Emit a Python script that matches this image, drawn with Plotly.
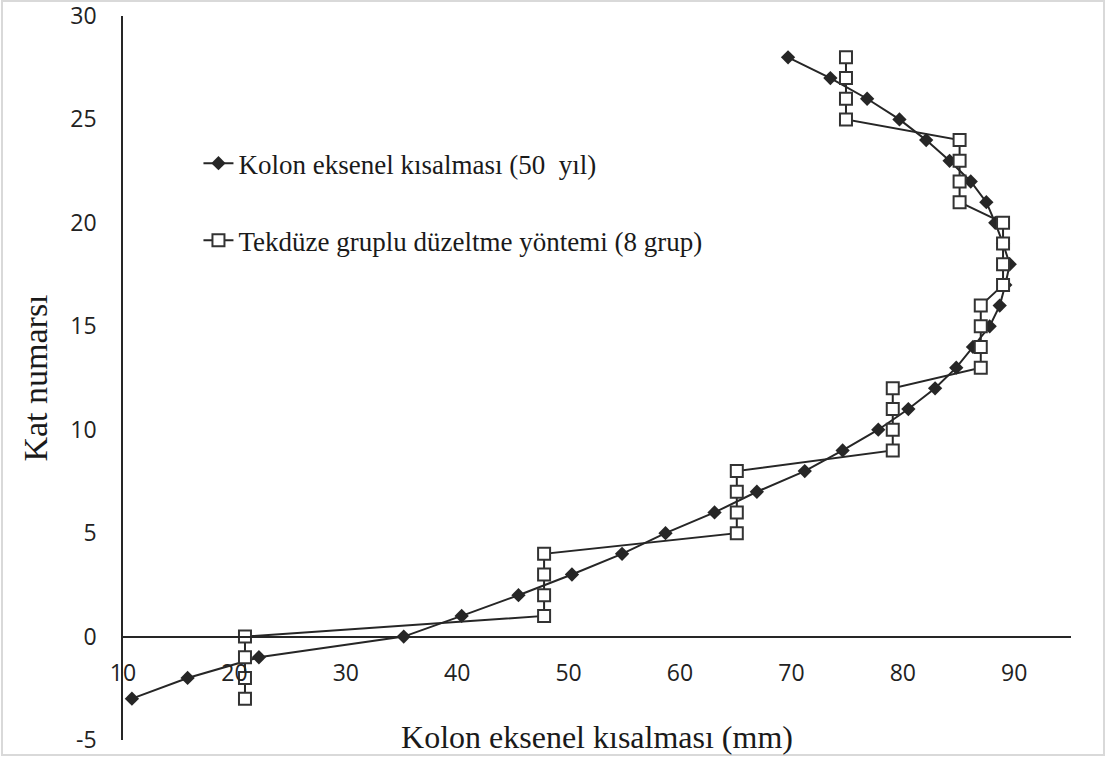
import plotly.graph_objects as go

floors = list(range(-3, 29))
kisalma_50 = [10.8, 15.8, 22.2, 35.2, 40.4, 45.5, 50.3, 54.8, 58.7, 63.1,
              66.9, 71.2, 74.6, 77.8, 80.5, 82.9, 84.8, 86.3, 87.8, 88.7,
              89.2, 89.6, 89.0, 88.3, 87.5, 86.1, 84.2, 82.1, 79.7, 76.8,
              73.5, 69.7]
grup_8 = [20.95] * 4 + [47.8] * 4 + [65.1] * 4 + [79.1] * 4 + [87.0] * 4 + \
         [89.0] * 4 + [85.1] * 4 + [74.9] * 4

name1 = "Kolon eksenel kısalması (50 \u00a0yıl)"
name2 = "Tekdüze gruplu düzeltme yöntemi (8 grup)"
x_title = "Kolon eksenel kısalması (mm)"
y_title = "Kat numarsı"
x_ticks = [10, 20, 30, 40, 50, 60, 70, 80, 90]
y_ticks = [-5, 0, 5, 10, 15, 20, 25, 30]
y_tick_text = ["-5", "0", "5", "10", "15", "20", "25", "30"]

LINE = "#262626"
serif = "Liberation Serif, Times New Roman, serif"
sans = "Open Sans, DejaVu Sans, sans-serif"

fig = go.Figure()
fig.add_trace(go.Scatter(
    x=kisalma_50, y=floors, name=name1, mode="lines+markers",
    line=dict(color=LINE, width=2),
    marker=dict(symbol="diamond", size=11, color=LINE, line=dict(width=0)),
    legendgroup="a"))
fig.add_trace(go.Scatter(
    x=grup_8, y=floors, name=name2, mode="lines+markers",
    line=dict(color=LINE, width=2),
    marker=dict(symbol="square", size=12, color="white",
                line=dict(color="#333333", width=2)),
    legendgroup="b"))

y_min, y_max = -5, 30
fig.update_layout(
    width=1107, height=758,
    margin=dict(l=123, r=36, t=16, b=18, autoexpand=False),
    paper_bgcolor="white", plot_bgcolor="white",
    showlegend=True,
    legend=dict(x=0.0796, y=0.83, xanchor="left", yanchor="top",
                font=dict(family=serif, size=27, color="#1a1a1a"),
                bgcolor="rgba(0,0,0,0)", tracegroupgap=39,
                traceorder="grouped"),
    xaxis=dict(range=[10, 95.1], tickvals=x_ticks, showgrid=False,
               zeroline=False, showline=True, linecolor="#262626",
               linewidth=1.5, anchor="free", automargin=False,
               position=(0 - y_min) / (y_max - y_min),
               ticks="", tickfont=dict(family=sans, size=23, color="#222222"),
               ticklabelstandoff=16, ticklabeloverflow="allow",
               title=dict(text=x_title, standoff=38,
                          font=dict(family=serif, size=32, color="#1a1a1a"))),
    yaxis=dict(range=[y_min, y_max], tickvals=y_ticks, ticktext=y_tick_text,
               showgrid=False,
               zeroline=False, showline=True, linecolor="#262626",
               linewidth=1.5, ticks="", automargin=False,
               tickfont=dict(family=sans, size=23, color="#222222"),
               ticklabelstandoff=20, ticklabeloverflow="allow",
               title=dict(text=y_title, standoff=12,
                          font=dict(family=serif, size=34, color="#1a1a1a"))),
    shapes=[dict(type="rect", xref="paper", yref="paper",
                 x0=-121 / 948, x1=(1104 - 123) / 948,
                 y0=-(755 - 740) / 724, y1=(740 - 1) / 724,
                 line=dict(color="#d9d9d9", width=2), layer="below")],
)

fig.write_html("out.html",
               config={"displayModeBar": False},
               post_script="document.body.style.margin='0';")
